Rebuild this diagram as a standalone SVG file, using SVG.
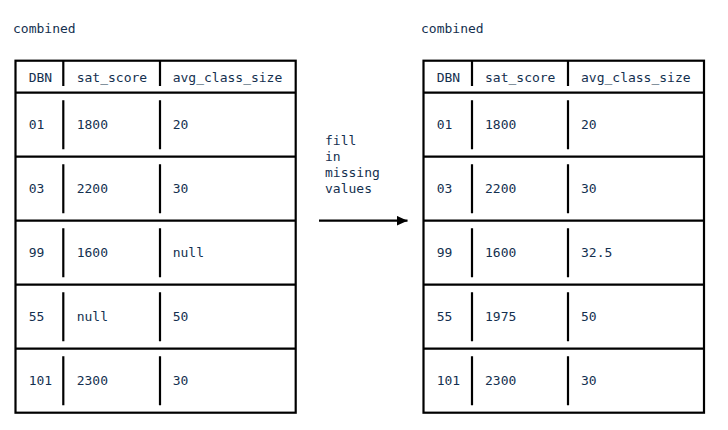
<svg xmlns="http://www.w3.org/2000/svg" width="728" height="430" viewBox="0 0 728 430">
<style>
text{font-family:"DejaVu Sans Mono","Liberation Mono",monospace;font-size:13px;fill:#14304f}
.ln{stroke:#000;stroke-width:2.2;fill:none}
</style>
<defs>
<marker id="ah" markerWidth="12" markerHeight="10" refX="11" refY="5" orient="auto" markerUnits="userSpaceOnUse">
<path d="M0,0 L11,5 L0,10 Z" fill="#000"/>
</marker>
</defs>
<rect width="728" height="430" fill="#fff"/>
<g id="table-left">
<text x="13" y="32.5">combined</text>
<rect class="ln" x="15.5" y="60.7" width="280.2" height="352"/>
<path class="ln" d="M15.5,92.7H295.7M15.5,156.7H295.7M15.5,220.7H295.7M15.5,284.7H295.7M15.5,348.7H295.7"/>
<path class="ln" d="M63.3,60.7V86M160,60.7V86M63.3,100.2V149.2M160,100.2V149.2M63.3,164.2V213.2M160,164.2V213.2M63.3,228.2V277.2M160,228.2V277.2M63.3,292.2V341.2M160,292.2V341.2M63.3,356.2V405.2M160,356.2V405.2"/>
<text x="28.7" y="81.5">DBN</text><text x="76.7" y="81.5">sat_score</text><text x="172.7" y="81.5">avg_class_size</text>
<text x="28.7" y="129">01</text><text x="76.7" y="129">1800</text><text x="172.7" y="129">20</text>
<text x="28.7" y="193">03</text><text x="76.7" y="193">2200</text><text x="172.7" y="193">30</text>
<text x="28.7" y="257">99</text><text x="76.7" y="257">1600</text><text x="172.7" y="257">null</text>
<text x="28.7" y="321">55</text><text x="76.7" y="321">null</text><text x="172.7" y="321">50</text>
<text x="28.7" y="385">101</text><text x="76.7" y="385">2300</text><text x="172.7" y="385">30</text>
</g>
<g id="table-right">
<text x="421" y="32.5">combined</text>
<rect class="ln" x="423.5" y="60.7" width="280.5" height="352"/>
<path class="ln" d="M423.5,92.7H704M423.5,156.7H704M423.5,220.7H704M423.5,284.7H704M423.5,348.7H704"/>
<path class="ln" d="M472,60.7V86M568,60.7V86M472,100.2V149.2M568,100.2V149.2M472,164.2V213.2M568,164.2V213.2M472,228.2V277.2M568,228.2V277.2M472,292.2V341.2M568,292.2V341.2M472,356.2V405.2M568,356.2V405.2"/>
<text x="436.7" y="81.5">DBN</text><text x="485" y="81.5">sat_score</text><text x="581" y="81.5">avg_class_size</text>
<text x="436.7" y="129">01</text><text x="485" y="129">1800</text><text x="581" y="129">20</text>
<text x="436.7" y="193">03</text><text x="485" y="193">2200</text><text x="581" y="193">30</text>
<text x="436.7" y="257">99</text><text x="485" y="257">1600</text><text x="581" y="257">32.5</text>
<text x="436.7" y="321">55</text><text x="485" y="321">1975</text><text x="581" y="321">50</text>
<text x="436.7" y="385">101</text><text x="485" y="385">2300</text><text x="581" y="385">30</text>
</g>
<g id="connectors">
<line x1="319" y1="220.7" x2="407.5" y2="220.7" stroke="#000" stroke-width="2.2" marker-end="url(#ah)"/>
<text x="325" y="144.5">fill</text>
<text x="325" y="160.5">in</text>
<text x="325" y="176.5">missing</text>
<text x="325" y="192.5">values</text>
</g>
</svg>
